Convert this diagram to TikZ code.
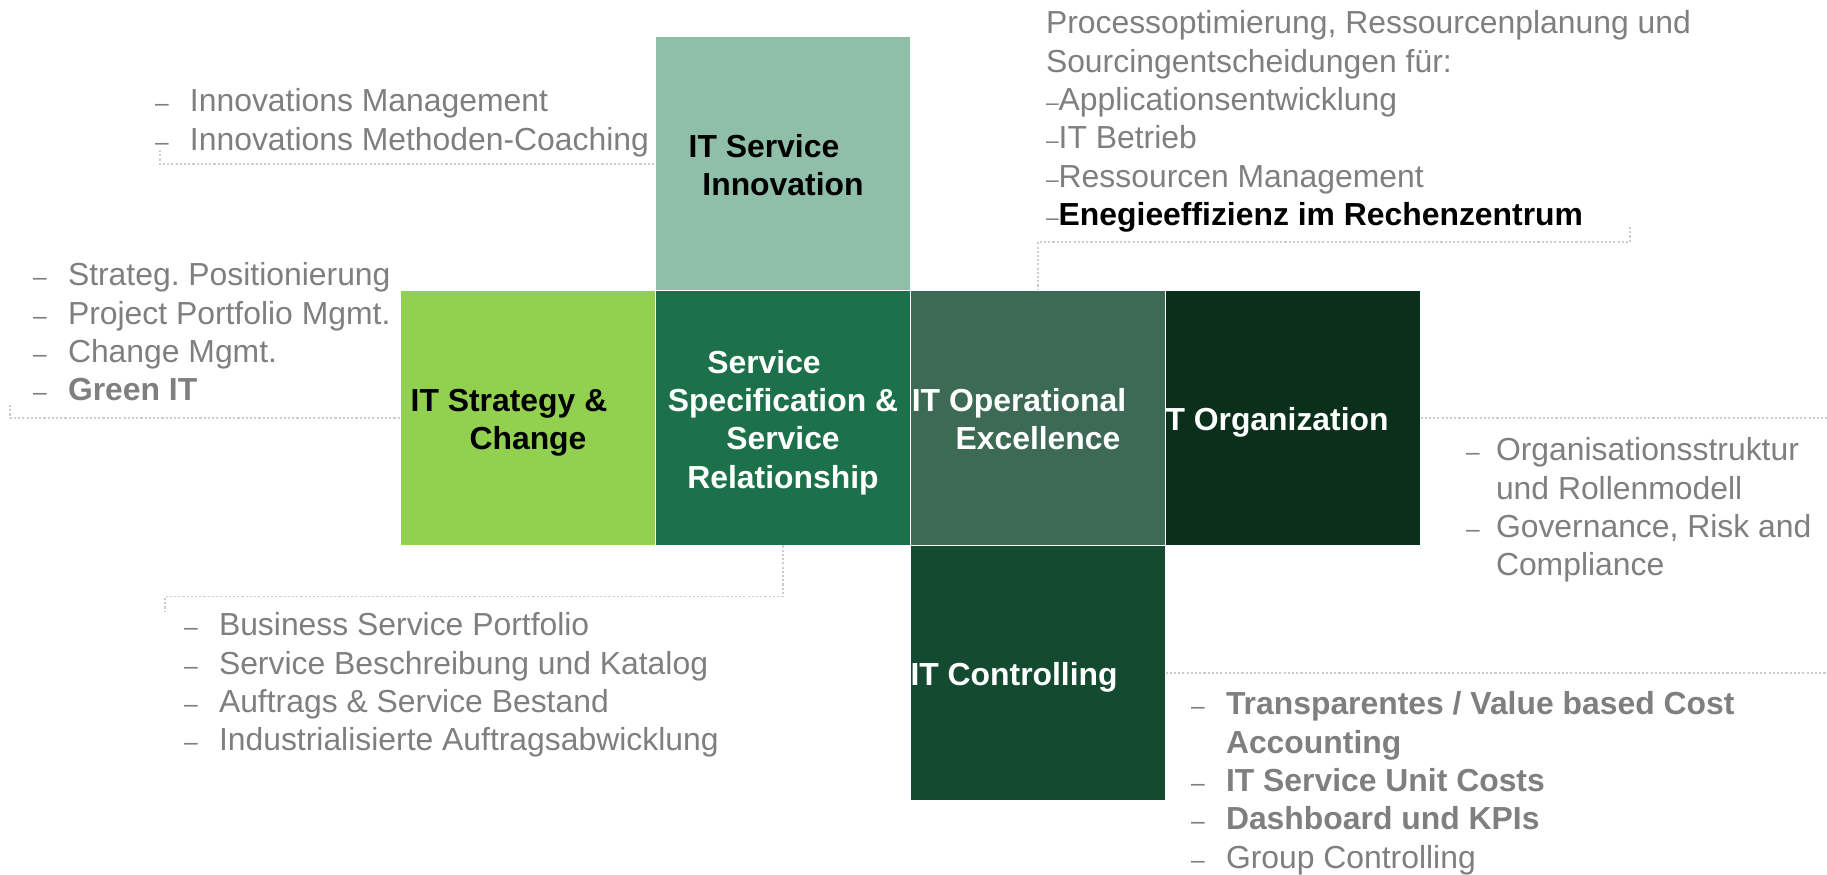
\documentclass[tikz,border=0pt]{standalone}
\usepackage{fontspec}
\setmainfont{Liberation Sans}
\usepackage{xcolor}
\frenchspacing

\definecolor{innogreen}{RGB}{143,191,168}
\definecolor{stratgreen}{RGB}{146,208,80}
\definecolor{specgreen}{RGB}{28,113,75}
\definecolor{opexgreen}{RGB}{61,106,85}
\definecolor{orggreen}{RGB}{10,47,26}
\definecolor{ctrlgreen}{RGB}{20,74,48}
\definecolor{listgray}{RGB}{127,127,127}
\definecolor{conngray}{RGB}{205,205,205}

\newcommand{\listfont}{\fontsize{9.07pt}{10.9pt}\selectfont}
\newcommand{\bul}{\makebox[3.5mm][l]{\fontsize{7pt}{7pt}\selectfont\textendash}}
\newcommand{\bulr}{\makebox[3mm][l]{\fontsize{7pt}{7pt}\selectfont\textendash}}
\newcommand{\sdash}{{\fontsize{6.5pt}{6.5pt}\selectfont\textendash}}
\newcommand{\rows}[1]{\begin{tabular}[t]{@{}l@{}}#1\end{tabular}}
\newcommand{\ttl}[1]{\begin{tabular}{@{}c@{}}#1\end{tabular}}

\begin{document}
\begin{tikzpicture}[x=0.1mm, y=-0.1mm,
    every node/.style={inner sep=0pt, outer sep=0pt, font=\listfont},
    cell/.style={minimum width=25.5mm, minimum height=25.5mm, draw=white, line width=0.4pt},
    title/.style={font=\listfont\bfseries, yshift=-0.5mm},
    item/.style={anchor=base west, text=listgray},
    conn/.style={draw=conngray, line width=0.35pt, dash pattern=on 0.6pt off 0.6pt}]
    \useasboundingbox (0,0) rectangle (1827,875);

    % the cross of boxes
    \foreach \name/\x/\y/\col in {inno/783/164/innogreen, strat/528/418/stratgreen,
        spec/783/418/specgreen, opex/1038/418/opexgreen, org/1293/418/orggreen,
        ctrl/1038/673/ctrlgreen} {
        \node[cell, fill=\col] (\name) at (\x,\y) {};
    }

    % titles
    \node[title] (inno-t) at (inno) {\ttl{IT Service\hspace*{3.8mm}\\Innovation}};
    \node[title] (strat-t) at (strat) {\ttl{IT Strategy \&\hspace*{3.8mm}\\Change}};
    \node[title, text=white] (spec-t) at (spec) {\ttl{Service\hspace*{3.8mm}\\Specification \&\\Service\\Relationship}};
    \node[title, text=white] (opex-t) at (opex) {\ttl{IT Operational\hspace*{3.8mm}\\Excellence}};
    \node[title, text=white, anchor=west] (org-t) at (org.west) {\rows{T Organization}};
    \node[title, text=white, anchor=west] (ctrl-t) at (ctrl.west) {\rows{IT Controlling}};

    % lists
    \node[item] (inno-l) at (155,112) {\rows{\bul Innovations Management\\
        \bul Innovations Methoden-Coaching}};
    \node[item] (eng-l) at (1046,34) {\rows{Processoptimierung, Ressourcenplanung und\\
        Sourcingentscheidungen für:\\
        \sdash Applicationsentwicklung\\
        \sdash IT Betrieb\\
        \sdash Ressourcen Management\\
        \sdash\textcolor{black}{\bfseries Enegieeffizienz im Rechenzentrum}}};
    \node[item] (strat-l) at (33,286) {\rows{\bul Strateg. Positionierung\\
        \bul Project Portfolio Mgmt.\\
        \bul Change Mgmt.\\
        \bul\textbf{Green IT}}};
    \node[item] (org-l) at (1466,461) {\rows{\bulr Organisationsstruktur\\
        \hspace*{3mm}und Rollenmodell\\
        \bulr Governance, Risk and\\
        \hspace*{3mm}Compliance}};
    \node[item] (biz-l) at (184,636) {\rows{\bul Business Service Portfolio\\
        \bul Service Beschreibung und Katalog\\
        \bul Auftrags \& Service Bestand\\
        \bul Industrialisierte Auftragsabwicklung}};
    \node[item] (ctrl-l) at (1191,715) {\rows{\bul\textbf{Transparentes / Value based Cost}\\
        \hspace*{3.5mm}\textbf{Accounting}\\
        \bul\textbf{IT Service Unit Costs}\\
        \bul\textbf{Dashboard und KPIs}\\
        \bul Group Controlling}};

    % dotted leaders
    \coordinate (inno-c) at (160,150);
    \coordinate (eng-c) at (1630,227);
    \coordinate (strat-c) at (10,405);
    \coordinate (org-c) at (1827,418);
    \coordinate (biz-c) at (165,612);
    \coordinate (ctrl-c) at (1827,673);
    \draw[conn] (inno-c) |- (inno.west);
    \draw[conn] (eng-c) -- ++(0,15) -| (opex.north);
    \draw[conn] (strat-c) |- (strat.west);
    \draw[conn] (org.east) -- (org-c);
    \draw[conn] (spec.south) -- ++(0,51) -| (biz-c);
    \draw[conn] (ctrl.east) -- (ctrl-c);
\end{tikzpicture}
\end{document}
